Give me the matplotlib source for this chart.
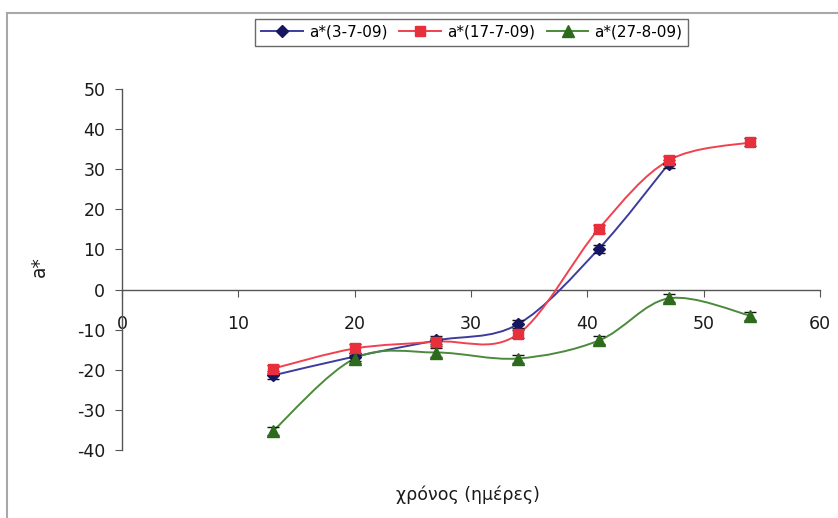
import numpy as np
import matplotlib
matplotlib.use("Agg")
import matplotlib.pyplot as plt
from matplotlib.path import Path
from matplotlib.patches import PathPatch
from matplotlib.lines import Line2D

# Sampling days and a* readings for the three harvest dates
days = [13, 20, 27, 34, 41, 47, 54]
a_3_7 = [-21.4, -16.7, -12.7, -8.7, 10.2, 31.4]
a_17_7 = [-19.7, -14.7, -13.0, -11.2, 15.2, 32.2, 36.7]
a_27_8 = [-35.2, -17.2, -15.7, -17.2, -12.7, -2.2, -6.5]
err_3_7 = [1.0, 1.0, 1.0, 1.0, 1.0, 1.0]
err_17_7 = [1.0, 1.0, 1.0, 1.0, 1.0, 1.0, 1.0]
err_27_8 = [1.0, 1.0, 1.0, 1.0, 1.0, 1.0, 1.0]

labels = ["a*(3-7-09)", "a*(17-7-09)", "a*(27-8-09)"]
line_colors = ["#3c3c9c", "#f2404f", "#4b8a3c"]
marker_colors = ["#151560", "#e8303c", "#2d6a1c"]
markers = ["D", "s", "^"]
msizes = [6.5, 7.5, 8.5]

XMIN, XMAX, YMIN, YMAX = 0, 60, -40, 50

plt.rcParams["font.family"] = ["DejaVu Sans"]
plt.rcParams["axes.unicode_minus"] = False

fig = plt.figure(figsize=(8.38, 5.18), dpi=100)
ax = fig.add_axes([0.1456, 0.1313, 0.833, 0.697])
ax.set_xlim(XMIN, XMAX)
ax.set_ylim(YMIN, YMAX)

# axes size in pixels, used so the smoothing follows the drawn shape
bbox = ax.get_position()
W = bbox.width * fig.get_figwidth() * fig.dpi
H = bbox.height * fig.get_figheight() * fig.dpi
sx = W / (XMAX - XMIN)
sy = H / (YMAX - YMIN)


def smooth_path(xs, ys):
    """Cardinal-spline Bezier through the points (Excel-style smoothing)."""
    P = np.column_stack([np.asarray(xs, float) * sx, np.asarray(ys, float) * sy])
    n = len(P)
    verts = [P[0]]
    codes = [Path.MOVETO]
    for i in range(n - 1):
        p0 = P[i - 1] if i > 0 else P[i]
        p1 = P[i]
        p2 = P[i + 1]
        p3 = P[i + 2] if i + 2 < n else P[i + 1]
        c1 = p1 + (p2 - p0) / 6.0
        c2 = p2 - (p3 - p1) / 6.0
        verts += [c1, c2, p2]
        codes += [Path.CURVE4] * 3
    V = np.array(verts)
    V[:, 0] /= sx
    V[:, 1] /= sy
    return Path(V, codes)


series = [(a_3_7, err_3_7), (a_17_7, err_17_7), (a_27_8, err_27_8)]
handles = []
for k, (vals, errs) in enumerate(series):
    xs = days[:len(vals)]
    ax.add_patch(PathPatch(smooth_path(xs, vals), facecolor="none",
                           edgecolor=line_colors[k], lw=1.4, zorder=3))
    ax.errorbar(xs, vals, yerr=errs, fmt="none", ecolor="#111111",
                elinewidth=1.0, capsize=4, capthick=1.0, zorder=4)
    ax.plot(xs, vals, linestyle="none", marker=markers[k], ms=msizes[k],
            color=marker_colors[k], zorder=5)
    handles.append(Line2D([], [], color=line_colors[k], lw=1.4,
                          marker=markers[k], ms=msizes[k],
                          markerfacecolor=marker_colors[k],
                          markeredgecolor=marker_colors[k]))

# spines: y axis on the left, x axis through zero
for s in ("top", "right"):
    ax.spines[s].set_visible(False)
ax.spines["bottom"].set_position(("data", 0))
for s in ("left", "bottom"):
    ax.spines[s].set_color("#555555")
    ax.spines[s].set_linewidth(1.0)

ax.set_xticks(np.arange(0, 61, 10))
ax.set_yticks(np.arange(-40, 51, 10))
ax.tick_params(axis="x", direction="out", length=5, color="#555555",
               pad=13, labelsize=12.5, labelcolor="#1a1a1a")
ax.tick_params(axis="y", direction="out", length=5, color="#555555",
               pad=7, labelsize=12.5, labelcolor="#1a1a1a")

ax.set_ylabel("a*", fontsize=13.5, color="#1a1a1a")
ax.yaxis.set_label_coords(-0.105, 0.507)
fig.text(0.558, 0.045, "χρόνος (ημέρες)", ha="center", va="center",
         fontsize=12.5, color="#1a1a1a")

leg = fig.legend(handles, labels, loc="center", bbox_to_anchor=(0.563, 0.938),
                 ncol=3, frameon=True, fancybox=False, edgecolor="#444444",
                 fontsize=11, handlelength=2.7, columnspacing=0.8,
                 handletextpad=0.4, borderpad=0.4)
leg.get_frame().set_linewidth(1.0)

# outer chart-area border (left and top edges)
fig.add_artist(Line2D([7 / 838, 7 / 838], [0, 1 - 13 / 518],
                      transform=fig.transFigure, color="#a8a8a8", lw=1.5))
fig.add_artist(Line2D([7 / 838, 1], [1 - 13 / 518, 1 - 13 / 518],
                      transform=fig.transFigure, color="#a8a8a8", lw=1.5))

fig.savefig("out.png", dpi=100, facecolor="white")
